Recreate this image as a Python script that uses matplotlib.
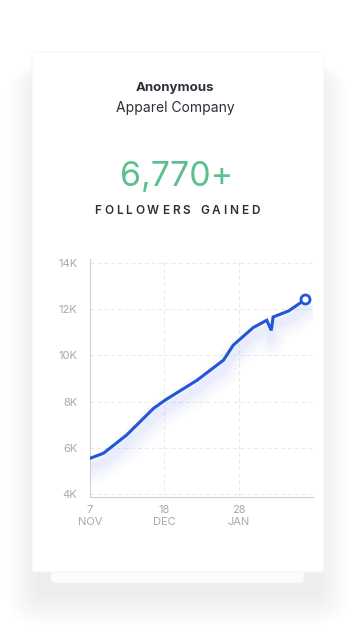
import matplotlib
matplotlib.use('Agg')
import matplotlib.pyplot as plt
import matplotlib.transforms as mtransforms
from matplotlib.patches import FancyBboxPatch
import numpy as np

# follower data, x in days from 7 Nov, y in thousands
days = [0, 7.4, 20.2, 35, 41.4, 59, 73.6, 79, 90, 97.5, 100, 101, 109.5, 118.8]
followers_k = [5.54, 5.76, 6.55, 7.70, 8.06, 8.92, 9.79, 10.44, 11.2, 11.52, 11.08, 11.66, 11.92, 12.42]
xtick_days = [0, 41, 82]
xtick_labels = ["7\nNOV", "18\nDEC", "28\nJAN"]
ytick_vals = [4, 6, 8, 10, 12, 14]
ytick_labels = ["4K", "6K", "8K", "10K", "12K", "14K"]

company_bold = "Anonymous"
company_name = "Apparel Company"
headline = "6,770+"
subline = "FOLLOWERS GAINED"

W, H = 356, 632
BLUE = "#2256d6"
GREEN = "#5cc08e"
DARK = "#2c2f3a"
GRAY = "#a8a8ae"
FONT = ["Inter", "DejaVu Sans"]

fig = plt.figure(figsize=(W / 100, H / 100), dpi=100)
fig.patch.set_facecolor("white")

# background layer in pixel coordinates
bg = fig.add_axes([0, 0, 1, 1])
bg.set_xlim(0, W)
bg.set_ylim(H, 0)
bg.axis('off')

# soft shadow around cards, heavier toward the bottom
for i in range(18):
    pad = 1 + i * 1.8
    bg.add_patch(FancyBboxPatch((38 - pad, 80 - pad * 0.5), 280 + 2 * pad, 515 + pad * 1.5,
                                boxstyle="round,pad=0,rounding_size=%f" % (6 + pad),
                                fc="#000000", ec="none", alpha=0.003, zorder=1))
# card behind
bg.add_patch(FancyBboxPatch((51, 500), 253, 83, boxstyle="round,pad=0,rounding_size=4",
                            fc="#fbfbfb", ec="#f3f3f3", lw=0.5, zorder=2))
# main card
bg.add_patch(FancyBboxPatch((32, 52), 292, 520, boxstyle="round,pad=0,rounding_size=4",
                            fc="white", ec="#f2f2f2", lw=0.5, zorder=3))

bg.text(W / 2 - 3, 88, company_bold, ha='center', va='center', fontsize=9.5, fontweight='bold',
        color=DARK, family=FONT, zorder=5)
bg.text(W / 2 - 3, 108, company_name, ha='center', va='center', fontsize=10,
        color=DARK, family=FONT, zorder=5)
bg.text(W / 2 - 1, 177, headline, ha='center', va='center', fontsize=24.5,
        color=GREEN, family=FONT, zorder=5)

# letter-spaced sub heading
fig.canvas.draw()
renderer = fig.canvas.get_renderer()
letters = []
spacing = 2.9
for ch in subline:
    t = bg.text(0, 210.5, ch, ha='left', va='center', fontsize=8.5, fontweight='semibold',
                color=DARK, family=FONT, zorder=5)
    letters.append(t)
widths = []
for ch, t in zip(subline, letters):
    if ch == " ":
        widths.append(4)
    else:
        widths.append(t.get_window_extent(renderer).width)
total = sum(widths) + spacing * (len(subline) - 1)
x = W / 2 - 1 - total / 2
for t, w in zip(letters, widths):
    t.set_x(x)
    x += w + spacing

# chart
x0, x1 = 90, 313
y_bot, y_top = 496.7, 259.5
ax = fig.add_axes([x0 / W, (H - y_bot) / H, (x1 - x0) / W, (y_bot - y_top) / H])
ax.set_facecolor("none")
ax.set_zorder(6)
ax.set_xlim(0, 123)
ax.set_ylim(3.88, 14.15)

# glow under the line
for lw, a, dy in [(20, 0.022, -12), (15, 0.028, -11), (10, 0.035, -10), (6, 0.045, -9)]:
    off = mtransforms.offset_copy(ax.transData, fig=fig, x=0, y=dy, units='dots')
    ax.plot(days, followers_k, color="#5b7ff0", lw=lw, alpha=a, transform=off,
            solid_capstyle='round', solid_joinstyle='round', zorder=2)

ax.plot(days, followers_k, color=BLUE, lw=2.2, solid_joinstyle='miter', zorder=4)
ax.plot(days[-1], followers_k[-1], 'o', ms=6.5, mfc='white', mec=BLUE, mew=2, zorder=5)

ax.set_yticks(ytick_vals)
ax.set_yticklabels(ytick_labels)
ax.set_xticks(xtick_days)
ax.set_xticklabels(xtick_labels)
ax.tick_params(length=0, colors=GRAY, labelsize=8)
ax.tick_params(axis='y', pad=9)
ax.tick_params(axis='x', pad=6)
for lab in ax.get_xticklabels() + ax.get_yticklabels():
    lab.set_family(FONT)
    lab.set_color(GRAY)
ax.grid(True, ls=(0, (4, 3)), color="#e8e8ec", lw=0.7)
ax.set_axisbelow(True)
for s in ['top', 'right']:
    ax.spines[s].set_visible(False)
for s in ['left', 'bottom']:
    ax.spines[s].set_color("#cfcfd4")
    ax.spines[s].set_linewidth(0.8)

fig.savefig("out.png", dpi=100)
